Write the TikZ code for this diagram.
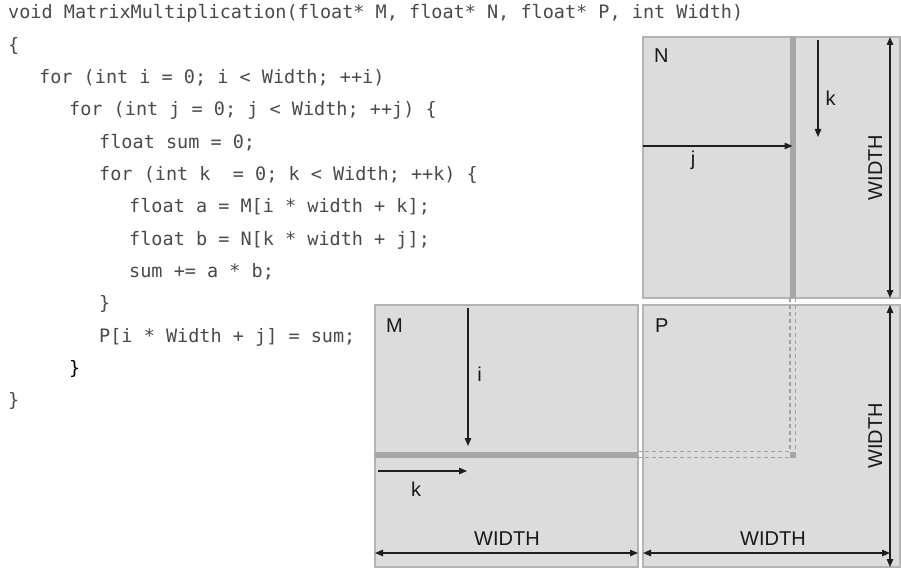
\documentclass[tikz,border=0pt]{standalone}
\usepackage{fontspec}
\setmainfont{Liberation Sans}
\setmonofont{DejaVu Sans Mono}
\usetikzlibrary{arrows.meta}

\definecolor{boxfill}{HTML}{DCDCDC}
\definecolor{boxline}{HTML}{B4B4B4}
\definecolor{bandgray}{HTML}{A6A6A6}
\definecolor{codegray}{HTML}{4A4A4A}
\definecolor{arrowblack}{HTML}{1E1E1E}

\tikzset{
  codeline/.style={anchor=base west, inner sep=0pt, text=codegray, font=\ttfamily\fontsize{18.5}{20}\selectfont},
  matbox/.style={draw=boxline, fill=boxfill, line width=1.5pt, outer sep=0pt, inner sep=0pt},
  lbl/.style={anchor=base, inner sep=0pt, text=black!90, font=\fontsize{20}{23}\selectfont},
  idxarrow/.style={->, line width=1.3pt, draw=arrowblack},
  dimarrow/.style={<->, line width=1.3pt, draw=arrowblack},
  ghost/.style={draw=boxline!90!black, dash pattern=on 4pt off 3pt, line width=1.2pt},
}

\begin{document}
\begin{tikzpicture}[x=1pt, y=-1pt, >={Triangle[length=8pt,width=6.5pt]}]
    \useasboundingbox (0,0) rectangle (901,569);

    % code listing
    \node[codeline] (code1) at (8,19) {void MatrixMultiplication(float* M, float* N, float* P, int Width)};
    \node[codeline] (code2) at (8,51.3) {\{};
    \node[codeline] (code3) at (39,83.6) {for (int i = 0; i < Width; ++i)};
    \node[codeline] (code4) at (69,115.9) {for (int j = 0; j < Width; ++j) \{};
    \node[codeline] (code5) at (99,148.2) {float sum = 0;};
    \node[codeline] (code6) at (99,180.5) {for (int k\ \ = 0; k < Width; ++k) \{};
    \node[codeline] (code7) at (129,212.8) {float a = M[i * width + k];};
    \node[codeline] (code8) at (129,245.1) {float b = N[k * width + j];};
    \node[codeline] (code9) at (129,277.4) {sum += a * b;};
    \node[codeline] (code10) at (99,309.7) {\}};
    \node[codeline] (code11) at (99,342) {P[i * Width + j] = sum;};
    \node[codeline, text=black] (code12) at (69,374.3) {\}};
    \node[codeline] (code13) at (8,406.6) {\}};

    % matrices
    \node[matbox, minimum width=257pt, minimum height=261pt] (Nmat) at (771.5,167.5) {};
    \node[matbox, minimum width=257pt, minimum height=262pt] (Pmat) at (771.5,436) {};
    \node[matbox, minimum width=263pt, minimum height=262pt] (Mmat) at (506.5,436) {};

    % row of M, column of N, element of P
    \fill[bandgray] (790,37) rectangle (795.5,298);
    \fill[bandgray] (375,452) rectangle (638,457.5);
    \draw[ghost] (790,298) -- (790,451.5);
    \draw[ghost] (795.7,298) -- (795.7,451.5);
    \draw[ghost] (638,451.7) -- (789.5,451.7);
    \draw[ghost] (638,457.2) -- (789.5,457.2);
    \fill[bandgray] (789.5,451.5) rectangle (796,458);

    \node[lbl, anchor=base west] (nname) at (654,63) {N};
    \node[lbl, anchor=base west] (mname) at (386,332.5) {M};
    \node[lbl, anchor=base west] (pname) at (655,332) {P};

    % index arrows
    \coordinate (jtail) at (643,146);
    \coordinate (jhead) at (792.5,146);
    \draw[idxarrow] (jtail) -- (jhead);
    \node[lbl] (jlab) at (693,166) {j};
    \coordinate (nktail) at (818,40);
    \coordinate (nkhead) at (818,137);
    \draw[idxarrow] (nktail) -- (nkhead);
    \node[lbl] (nklab) at (830.5,106) {k};
    \coordinate (itail) at (468,308);
    \coordinate (ihead) at (468,446);
    \draw[idxarrow] (itail) -- (ihead);
    \node[lbl] (ilab) at (479.5,381) {i};
    \coordinate (mktail) at (378,471);
    \coordinate (mkhead) at (467,471);
    \draw[idxarrow] (mktail) -- (mkhead);
    \node[lbl] (mklab) at (416,496) {k};

    % sizes
    \coordinate (nwtop) at (890,37);
    \coordinate (nwbot) at (890,298);
    \draw[dimarrow] (nwtop) -- (nwbot);
    \node[lbl, rotate=90] (nwlab) at (882,167.5) {WIDTH};
    \coordinate (pwtop) at (890,305);
    \coordinate (pwbot) at (890,567);
    \draw[dimarrow] (pwtop) -- (pwbot);
    \node[lbl, rotate=90] (pwlab) at (882,436) {WIDTH};
    \coordinate (mwleft) at (375,553);
    \coordinate (mwright) at (638,553);
    \draw[dimarrow] (mwleft) -- (mwright);
    \node[lbl] (mwlab) at (507,545) {WIDTH};
    \coordinate (pwleft) at (643,553);
    \coordinate (pwright) at (890,553);
    \draw[dimarrow] (pwleft) -- (pwright);
    \node[lbl] (pwlabh) at (773,545) {WIDTH};
\end{tikzpicture}
\end{document}
